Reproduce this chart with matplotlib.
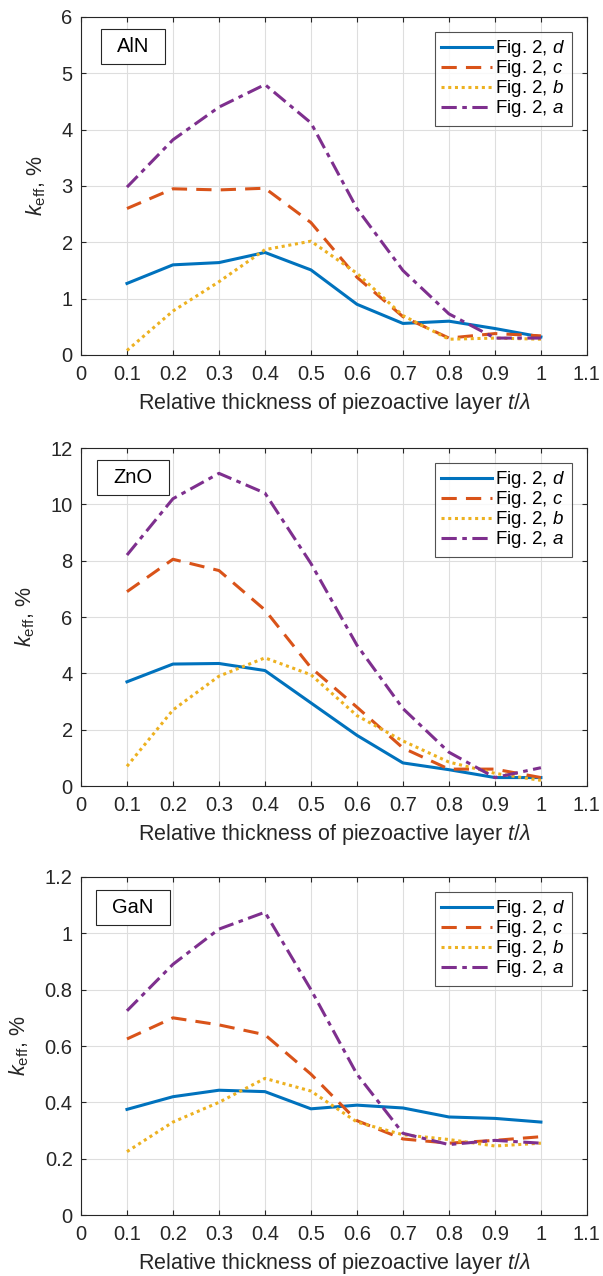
import matplotlib
matplotlib.use('Agg')
import matplotlib.pyplot as plt

plt.rcParams['font.family'] = ['Liberation Sans', 'DejaVu Sans']
plt.rcParams['mathtext.fontset'] = 'custom'
plt.rcParams['mathtext.rm'] = 'Liberation Sans'
plt.rcParams['mathtext.it'] = 'Liberation Sans:italic'

# Relative thickness t/lambda
thickness = [0.1, 0.2, 0.3, 0.4, 0.5, 0.6, 0.7, 0.8, 0.9, 1.0]

# AlN
aln_d = [1.27, 1.60, 1.64, 1.82, 1.51, 0.90, 0.56, 0.60, 0.47, 0.32]
aln_c = [2.60, 2.95, 2.93, 2.96, 2.35, 1.38, 0.68, 0.30, 0.38, 0.34]
aln_b = [0.08, 0.78, 1.30, 1.87, 2.02, 1.45, 0.70, 0.28, 0.30, 0.28]
aln_a = [2.98, 3.82, 4.40, 4.80, 4.12, 2.60, 1.50, 0.73, 0.30, 0.30]

# ZnO
zno_d = [3.70, 4.33, 4.35, 4.10, 2.95, 1.80, 0.82, 0.58, 0.30, 0.30]
zno_c = [6.90, 8.05, 7.65, 6.25, 4.20, 2.80, 1.35, 0.60, 0.60, 0.30]
zno_b = [0.70, 2.70, 3.90, 4.55, 3.95, 2.50, 1.60, 0.85, 0.45, 0.20]
zno_a = [8.20, 10.20, 11.10, 10.40, 7.90, 5.00, 2.75, 1.20, 0.30, 0.65]

# GaN
gan_d = [0.375, 0.420, 0.443, 0.438, 0.377, 0.390, 0.380, 0.348, 0.343, 0.330]
gan_c = [0.625, 0.700, 0.675, 0.640, 0.500, 0.335, 0.270, 0.255, 0.265, 0.278]
gan_b = [0.225, 0.330, 0.400, 0.485, 0.440, 0.330, 0.285, 0.268, 0.245, 0.255]
gan_a = [0.725, 0.890, 1.015, 1.075, 0.800, 0.500, 0.290, 0.250, 0.265, 0.255]

materials = ['AlN', 'ZnO', 'GaN']
series = [[aln_d, aln_c, aln_b, aln_a],
          [zno_d, zno_c, zno_b, zno_a],
          [gan_d, gan_c, gan_b, gan_a]]
y_limits = [(0, 6), (0, 12), (0, 1.2)]
y_ticks = [[0, 1, 2, 3, 4, 5, 6],
           [0, 2, 4, 6, 8, 10, 12],
           [0, 0.2, 0.4, 0.6, 0.8, 1, 1.2]]
y_ticklabels = [['0', '1', '2', '3', '4', '5', '6'],
                ['0', '2', '4', '6', '8', '10', '12'],
                ['0', '0.2', '0.4', '0.6', '0.8', '1', '1.2']]
x_ticks = [0, 0.1, 0.2, 0.3, 0.4, 0.5, 0.6, 0.7, 0.8, 0.9, 1.0, 1.1]
x_ticklabels = ['0', '0.1', '0.2', '0.3', '0.4', '0.5', '0.6', '0.7',
                '0.8', '0.9', '1', '1.1']

labels = [r'Fig. 2, $\it{d}$', r'Fig. 2, $\it{c}$',
          r'Fig. 2, $\it{b}$', r'Fig. 2, $\it{a}$']
colors = ['#0072BD', '#D95319', '#EDB120', '#7E2F8E']
styles = ['-', (0, (5, 3)), (0, (1, 1.2)), (0, (5, 1.8, 1.5, 1.8))]

fig = plt.figure(figsize=(6.03, 12.76), dpi=100)
bottoms = [0.7218, 0.384, 0.0478]
text_y = [0.9127, 0.914, 0.911]

for i in range(3):
    ax = fig.add_axes([0.1343, bottoms[i], 0.839, 0.2649])
    for vals, lab, col, ls in zip(series[i], labels, colors, styles):
        ax.plot(thickness, vals, color=col, linestyle=ls, linewidth=2.2,
                label=lab)
    ax.set_xlim(0, 1.1)
    ax.set_ylim(*y_limits[i])
    ax.set_xticks(x_ticks)
    ax.set_xticklabels(x_ticklabels)
    ax.set_yticks(y_ticks[i])
    ax.set_yticklabels(y_ticklabels[i])
    ax.tick_params(direction='in', top=True, right=True, labelsize=14.5,
                   length=3.5, width=0.8, colors='#262626')
    ax.tick_params(axis='x', pad=7)
    ax.tick_params(axis='y', pad=6)
    ax.grid(True, color='#dedede', linewidth=0.8)
    ax.set_axisbelow(True)
    for sp in ax.spines.values():
        sp.set_color('#262626')
        sp.set_linewidth(0.8)
    ax.set_xlabel(r'Relative thickness of piezoactive layer $\it{t}$/$\lambda$',
                  fontsize=15.5, color='#262626', labelpad=5)
    ax.set_ylabel(r'$\it{k}_{\mathrm{eff}}$, %', fontsize=15.5, color='#262626',
                  labelpad=10)
    leg = ax.legend(loc='upper right', fontsize=13.5, frameon=True,
                    fancybox=False, edgecolor='#262626', handlelength=2.7,
                    borderaxespad=0.78, labelspacing=-0.05, borderpad=0.35,
                    handletextpad=0.2)
    leg.get_frame().set_linewidth(0.8)
    ax.text(0.103, text_y[i], materials[i], transform=ax.transAxes,
            fontsize=14.5, ha='center', va='center',
            bbox=dict(boxstyle='square,pad=0.8', mutation_aspect=0.5,
                      facecolor='white', edgecolor='#262626', linewidth=0.8))

plt.savefig('out.png', dpi=100)
plt.close()
